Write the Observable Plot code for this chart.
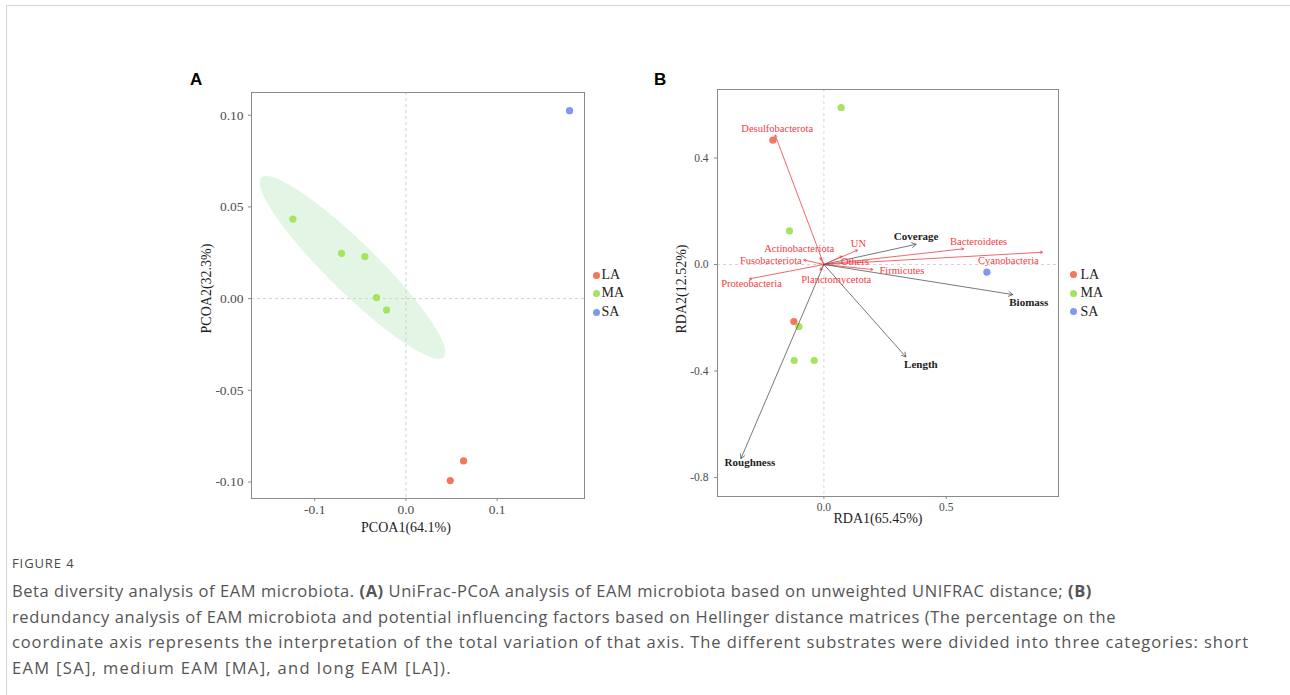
<!DOCTYPE html>
<html>
<head>
<meta charset="utf-8">
<script src="https://cdn.jsdelivr.net/npm/d3@7"></script>
<script src="https://cdn.jsdelivr.net/npm/@observablehq/plot@0.6"></script>
<style>
  html, body { margin: 0; padding: 0; background: #fff; }
  #root { position: relative; width: 1290px; height: 695px; overflow: hidden; }
  .frame-box { position: absolute; left: 6px; top: 5px; width: 1400px; height: 800px;
    border-top: 1.5px solid #d6d6d6; border-left: 1.5px solid #d6d6d6; }
  .panel { position: absolute; }
  .tag { position: absolute; font-family: "Liberation Sans", Arial, sans-serif; font-weight: bold; font-size: 17px; color: #000; }
  .legend { position: absolute; font-family: "Liberation Serif", serif; font-size: 14px; color: #222; }
  .legend .item { position: absolute; white-space: nowrap; }
  .legend .dot { position: absolute; width: 7px; height: 7px; border-radius: 50%; }
  .caption { position: absolute; left: 12px; top: 554px; font-family: "Open Sans", sans-serif; color: #555; }
  .caption .fig { font-size: 13px; letter-spacing: 0.9px; margin-bottom: 6px; color: #4a4a4a; }
  .caption .txt { font-size: 16.5px; line-height: 25.7px; white-space: nowrap; }
  .caption .line { display: block; white-space: nowrap; }
</style>
</head>
<body>
<div id="root">
  <div class="frame-box"></div>
  <div class="tag" style="left:190px; top:70px;">A</div>
  <div class="tag" style="left:654px; top:70px;">B</div>
  <div id="plotA" class="panel" style="left:180px; top:70px;"></div>
  <div id="plotB" class="panel" style="left:640px; top:80px;"></div>
  <div id="legendA" class="legend"></div>
  <div id="legendB" class="legend"></div>
  <div class="caption">
    <div class="fig">FIGURE 4</div>
    <div class="txt">
      <span class="line" data-right="1092">Beta diversity analysis of EAM microbiota. <b>(A)</b> UniFrac-PCoA analysis of EAM microbiota based on unweighted UNIFRAC distance; <b>(B)</b></span>
      <span class="line" data-right="1116">redundancy analysis of EAM microbiota and potential influencing factors based on Hellinger distance matrices (The percentage on the</span>
      <span class="line" data-right="1249">coordinate axis represents the interpretation of the total variation of that axis. The different substrates were divided into three categories: short</span>
      <span class="line" data-right="452">EAM [SA], medium EAM [MA], and long EAM [LA]).</span>
    </div>
  </div>
</div>
<script>
// ---------- data ----------
const groups = ["LA", "MA", "SA"];
const groupColors = ["#f2785c", "#a6e35e", "#7f98f0"];

// Panel A: PCoA
const pcoaGroup = ["SA", "MA", "MA", "MA", "MA", "MA", "LA", "LA"];
const pcoa1 = [0.1794, -0.1239, -0.0706, -0.0450, -0.0322, -0.0212, 0.0632, 0.0486];
const pcoa2 = [0.1025, 0.0434, 0.0247, 0.0229, 0.0005, -0.0062, -0.0885, -0.0992];
const pcoaXTicks = [-0.1, 0.0, 0.1];
const pcoaYTicks = [-0.10, -0.05, 0.00, 0.05, 0.10];

// Panel B: RDA samples
const rdaGroup = ["MA", "LA", "MA", "SA", "LA", "MA", "MA", "MA"];
const rda1 = [0.0707, -0.2084, -0.1406, 0.6660, -0.1226, -0.1022, -0.1214, -0.0396];
const rda2 = [0.5898, 0.4669, 0.1262, -0.0289, -0.2141, -0.2329, -0.3606, -0.3606];
const rdaXTicks = [0.0, 0.5];
const rdaYTicks = [-0.8, -0.4, 0.0, 0.4];

// Panel B: species arrows
const speciesNames = ["Desulfobacterota", "Bacteroidetes", "Cyanobacteria", "UN", "Actinobacteriota",
  "Fusobacteriota", "Others", "Firmicutes", "Proteobacteria", "Planctomycetota"];
const speciesRDA1 = [-0.199, 0.571, 0.893, 0.137, -0.015, -0.082, 0.074, 0.200, -0.304, -0.015];
const speciesRDA2 = [0.486, 0.059, 0.046, 0.054, 0.025, 0.017, 0.031, -0.019, -0.054, -0.021];

// Panel B: environmental factor arrows
const envNames = ["Coverage", "Biomass", "Length", "Roughness"];
const envRDA1 = [0.377, 0.772, 0.335, -0.339];
const envRDA2 = [0.076, -0.113, -0.347, -0.729];

// ---------- build ----------
const font = "Liberation Serif, Times New Roman, serif";
const colorScale = {domain: groups, range: groupColors};

const pcoaRows = pcoaGroup.map((g, i) => ({g, x: pcoa1[i], y: pcoa2[i]}));
const rdaRows = rdaGroup.map((g, i) => ({g, x: rda1[i], y: rda2[i]}));
const speciesRows = speciesNames.map((name, i) => ({name, x: speciesRDA1[i], y: speciesRDA2[i]}));
const envRows = envNames.map((name, i) => ({name, x: envRDA1[i], y: envRDA2[i]}));

// 95% normal data ellipse of the MA group
function dataEllipse(rows) {
  const n = rows.length;
  const mx = d3.mean(rows, d => d.x), my = d3.mean(rows, d => d.y);
  let sxx = 0, syy = 0, sxy = 0;
  for (const d of rows) { sxx += (d.x - mx) ** 2; syy += (d.y - my) ** 2; sxy += (d.x - mx) * (d.y - my); }
  sxx /= n - 1; syy /= n - 1; sxy /= n - 1;
  const tr = sxx + syy, det = sxx * syy - sxy * sxy;
  const disc = Math.sqrt(tr * tr / 4 - det);
  const l1 = tr / 2 + disc, l2 = tr / 2 - disc;
  const theta = Math.atan2(l1 - sxx, sxy);
  const k = Math.sqrt(6.2);
  const a = k * Math.sqrt(l1), b = k * Math.sqrt(l2);
  const pts = [];
  for (let i = 0; i <= 120; i++) {
    const t = (i / 120) * 2 * Math.PI;
    const ex = a * Math.cos(t), ey = b * Math.sin(t);
    pts.push({x: mx + ex * Math.cos(theta) - ey * Math.sin(theta), y: my + ex * Math.sin(theta) + ey * Math.cos(theta)});
  }
  return pts;
}
const ellipse = dataEllipse(pcoaRows.filter(d => d.g === "MA"));

const plotA = Plot.plot({
  width: 420, height: 474,
  marginLeft: 71, marginRight: 16, marginTop: 22, marginBottom: 46,
  style: {fontFamily: font, fontSize: "13.5px", color: "#4d4d4d", background: "transparent", overflow: "visible"},
  x: {domain: [-0.1693, 0.1958]},
  y: {domain: [-0.109, 0.1124]},
  color: colorScale,
  marks: [
    Plot.line(ellipse, {x: "x", y: "y", fill: "#e3f6e5", stroke: "none"}),
    Plot.ruleX([0], {stroke: "#cfcfcf", strokeDasharray: "3,3"}),
    Plot.ruleY([0], {stroke: "#cfcfcf", strokeDasharray: "3,3"}),
    Plot.frame({stroke: "#8a8a8a"}),
    Plot.axisX({ticks: pcoaXTicks, tickFormat: d => d.toFixed(1), tickSize: 3, tickPadding: 3, label: null,
      stroke: "#8a8a8a", fill: "#4d4d4d", fontSize: 13.5, fontFamily: font}),
    Plot.axisY({ticks: pcoaYTicks, tickFormat: d => d.toFixed(2), tickSize: 3, tickPadding: 5, label: null,
      stroke: "#8a8a8a", fill: "#4d4d4d", fontSize: 13.5, fontFamily: font}),
    Plot.text(["PCOA1(64.1%)"], {frameAnchor: "bottom", text: d => d, textAnchor: "middle", lineAnchor: "middle",
      dx: -12, dy: 29, fontSize: 14, fill: "#222"}),
    Plot.text(["PCOA2(32.3%)"], {frameAnchor: "left", text: d => d, textAnchor: "middle", lineAnchor: "middle",
      rotate: -90, dx: -45, dy: -7, fontSize: 14, fill: "#222"}),
    Plot.dot(pcoaRows, {x: "x", y: "y", fill: "g", r: 3.6, stroke: "none"})
  ]
});
document.getElementById("plotA").appendChild(plotA);

const speciesOffsets = {
  Desulfobacterota: [2, -7], Bacteroidetes: [15, -7], Cyanobacteria: [-34, 8], UN: [1, -7],
  Actinobacteriota: [-21, -9], Fusobacteriota: [-33, 1], Others: [13, 5], Firmicutes: [29, 1],
  Proteobacteria: [2, 5], Planctomycetota: [16, 10]
};
const envOffsets = {Coverage: [0, -8], Biomass: [16, 8], Length: [15, 8], Roughness: [9, 4]};
const red = "#f23d45";

const plotB = Plot.plot({
  width: 428, height: 460,
  marginLeft: 77, marginRight: 10, marginTop: 9, marginBottom: 44,
  style: {fontFamily: font, fontSize: "11px", color: "#4d4d4d", background: "transparent", overflow: "visible"},
  x: {domain: [-0.4348, 0.9587]},
  y: {domain: [-0.8715, 0.6574]},
  color: colorScale,
  marks: [
    Plot.ruleX([0], {stroke: "#d4d4d4", strokeDasharray: "3,3"}),
    Plot.ruleY([0], {stroke: "#d4d4d4", strokeDasharray: "3,3"}),
    Plot.frame({stroke: "#8a8a8a"}),
    Plot.axisX({ticks: rdaXTicks, tickFormat: d => d.toFixed(1), tickSize: 3, tickPadding: 3, label: null,
      stroke: "#8a8a8a", fill: "#4d4d4d", fontSize: 11.5, fontFamily: font}),
    Plot.axisY({ticks: rdaYTicks, tickFormat: d => d.toFixed(1), tickSize: 3, tickPadding: 6, label: null,
      stroke: "#8a8a8a", fill: "#4d4d4d", fontSize: 11.5, fontFamily: font}),
    Plot.text(["RDA1(65.45%)"], {frameAnchor: "bottom", text: d => d, textAnchor: "middle", lineAnchor: "middle",
      dx: -10, dy: 22, fontSize: 14, fill: "#222"}),
    Plot.text(["RDA2(12.52%)"], {frameAnchor: "left", text: d => d, textAnchor: "middle", lineAnchor: "middle",
      rotate: -90, dx: -36, dy: -4, fontSize: 14, fill: "#222"}),
    Plot.dot(rdaRows, {x: "x", y: "y", fill: "g", r: 3.6, stroke: "none"}),
    Plot.arrow(speciesRows, {x1: () => 0, y1: () => 0, x2: "x", y2: "y", stroke: red, strokeWidth: 0.8, headLength: 4}),
    Plot.arrow(envRows, {x1: () => 0, y1: () => 0, x2: "x", y2: "y", stroke: "#555", strokeWidth: 0.8, headLength: 9}),
    ...speciesRows.map(r => Plot.text([r], {x: "x", y: "y", text: "name", fill: red, fontSize: 10.5,
      dx: speciesOffsets[r.name][0], dy: speciesOffsets[r.name][1]})),
    ...envRows.map(r => Plot.text([r], {x: "x", y: "y", text: "name", fill: "#222", fontSize: 11, fontWeight: "bold",
      dx: envOffsets[r.name][0], dy: envOffsets[r.name][1]}))
  ]
});
document.getElementById("plotB").appendChild(plotB);

function legend(id, dotX, textX, ys) {
  const el = document.getElementById(id);
  groups.forEach((g, i) => {
    const dot = document.createElement("div");
    dot.className = "dot";
    dot.style.left = (dotX - 3.5) + "px";
    dot.style.top = (ys[i] - 3.5) + "px";
    dot.style.background = groupColors[i];
    el.appendChild(dot);
    const t = document.createElement("div");
    t.className = "item";
    t.textContent = g;
    t.style.left = textX + "px";
    t.style.top = (ys[i] - 9) + "px";
    t.style.lineHeight = "18px";
    el.appendChild(t);
  });
}
legend("legendA", 596.3, 601.5, [275, 293.3, 312.3]);
legend("legendB", 1073, 1080.5, [274.7, 293.3, 311.7]);

// fit each caption line to the reference line length
document.querySelectorAll(".caption .line").forEach(el => {
  el.style.display = "inline-block";
  const target = +el.dataset.right - 12;
  const w = el.getBoundingClientRect().width;
  const n = el.textContent.length;
  el.style.letterSpacing = ((target - w) / n) + "px";
  el.style.display = "block";
});
</script>
</body>
</html>
